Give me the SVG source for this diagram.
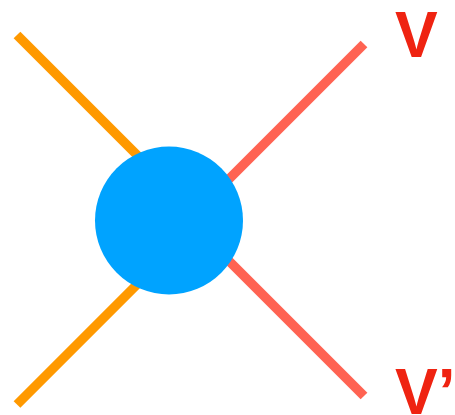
<svg xmlns="http://www.w3.org/2000/svg" width="455" height="415" viewBox="0 0 455 415">
<style>
.o{stroke:#ff9900;stroke-width:9.5;fill:none}
.r{stroke:#ff6352;stroke-width:9.5;fill:none}
.lbl{font-family:"Liberation Sans",Arial,sans-serif;font-weight:bold;font-size:64px;fill:#ef2311}
</style>
<g id="connectors">
<line class="o" x1="17" y1="35" x2="160" y2="178"/>
<line class="o" x1="17" y1="404.5" x2="160" y2="261.5"/>
<line class="r" x1="364" y1="44" x2="220" y2="188"/>
<line class="r" x1="364" y1="396" x2="220" y2="252"/>
</g>
<g id="blob"><circle cx="169" cy="220.5" r="74" fill="#00a3ff"/></g>
<g id="labelV"><text class="lbl" x="395" y="57">V</text></g>
<g id="labelV2"><text class="lbl" x="395" y="414">V’</text></g>
</svg>
